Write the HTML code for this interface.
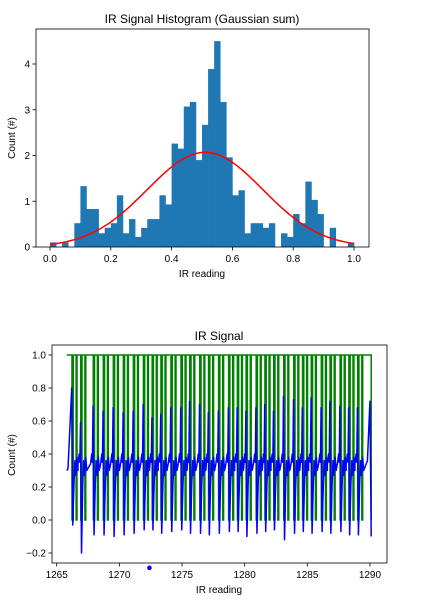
<!DOCTYPE html>
<html><head><meta charset="utf-8"><style>
html,body{margin:0;padding:0;background:#fff;}
svg{display:block;font-family:"Liberation Sans","DejaVu Sans",sans-serif;}
</style></head><body>
<svg id="fig" width="422" height="608" viewBox="0 0 422 608"></svg>
<script>
// ---- histogram data ----
const binEdgesStart = 0, binWidth = 0.02;
const histCounts = [0.1,0,0.1,0,0.52,1.33,0.83,0.83,0.3,0.42,0.52,1.13,0.3,0.61,0.22,0.42,0.61,0.61,1.13,0.93,2.26,2.15,3.07,3.17,1.9,2.67,3.89,4.5,3.17,1.96,1.13,1.24,0.3,0.52,0.52,0.42,0.52,0,0.3,0.22,0.72,0.52,1.43,1.03,0.72,0,0.42,0,0,0.1];
const gaussAmp = 2.07, gaussMu = 0.51, gaussSigma = 0.19;
const histXTicks = [0.0,0.2,0.4,0.6,0.8,1.0];
const histXTickLabels = ["0.0","0.2","0.4","0.6","0.8","1.0"];
const histYTicks = [0,1,2,3,4];
const histYTickLabels = ["0","1","2","3","4"];
// ---- signal data ----
const peakX = [1266.2,1266.9,1267.9,1268.7,1269.5,1270.3,1271.1,1271.9,1272.6,1273.3,1274.1,1274.9,1275.6,1276.4,1277.1,1277.9,1278.7,1279.4,1280.1,1280.9,1281.6,1282.3,1283.1,1283.9,1284.6,1285.3,1286.1,1286.8,1287.6,1288.3,1289.0];
const peakY = [0.80,0.59,0.69,0.66,0.68,0.65,0.66,0.70,0.62,0.64,0.68,0.68,0.72,0.70,0.65,0.66,0.68,0.68,0.66,0.68,0.70,0.66,0.75,0.73,0.68,0.74,0.68,0.72,0.69,0.68,0.68];
const minY = [-0.03,-0.2,-0.09,-0.09,-0.10,-0.09,-0.08,-0.06,-0.06,-0.08,-0.07,-0.06,-0.08,-0.08,-0.09,-0.08,-0.07,-0.07,-0.10,-0.08,-0.07,-0.06,-0.12,-0.08,-0.07,-0.08,-0.07,-0.08,-0.07,-0.09,-0.09];
const sigStartX = 1265.8, sigEndX = 1290.1;
const dotX = 1272.4, dotY = -0.29;
const sigXTicks = [1265,1270,1275,1280,1285,1290];
const sigXTickLabels = ["1265","1270","1275","1280","1285","1290"];
const sigYTicks = [-0.2,0,0.2,0.4,0.6,0.8,1.0];
const sigYTickLabels = ["\u22120.2","0.0","0.2","0.4","0.6","0.8","1.0"];

const svg = document.getElementById('fig');
const NS = 'http://www.w3.org/2000/svg';
function mk(tag, attrs, parent){const e=document.createElementNS(NS,tag);for(const k in attrs)e.setAttribute(k,attrs[k]);(parent||svg).appendChild(e);return e;}
function txt(s,x,y,size,anchor,name,rot){const t=mk('text',{x:x,y:y,'font-size':size,'text-anchor':anchor||'middle',fill:'#000'});if(rot)t.setAttribute('transform','rotate(-90 '+x+' '+y+')');t.textContent=s;


return t;}

// ---- top histogram ----
const A = {l:36,r:369,t:29,b:247};
const hx = v => 50 + v*304;
const hy = v => 247 - v*45.75;
txt('IR Signal Histogram (Gaussian sum)',202,23,12,'middle','histogram-title');
const gBars = mk('g',{});


histCounts.forEach((c,i)=>{ if(c<=0) return;
  const x0=hx(binEdgesStart+i*binWidth), x1=hx(binEdgesStart+(i+1)*binWidth);
  const r=mk('rect',{x:x0,y:hy(c),width:x1-x0+0.3,height:hy(0)-hy(c),fill:'#1f77b4'},gBars);
  
  
});
let gp='';
for(let i=0;i<=100;i++){const v=i/100;const y=gaussAmp*Math.exp(-Math.pow(v-gaussMu,2)/(2*gaussSigma*gaussSigma));gp+=(i?'L':'M')+hx(v).toFixed(2)+' '+hy(y).toFixed(2);}
const gc=mk('path',{d:gp,stroke:'#ff0000','stroke-width':1.5,fill:'none'});


const f1=mk('rect',{x:A.l,y:A.t,width:A.r-A.l,height:A.b-A.t,fill:'none',stroke:'#000','stroke-width':0.8});


histXTicks.forEach((v,i)=>{mk('line',{x1:hx(v),x2:hx(v),y1:A.b,y2:A.b+3.5,stroke:'#000','stroke-width':0.8});txt(histXTickLabels[i],hx(v),A.b+15,10,'middle','hist-x-tick-label');});
histYTicks.forEach((v,i)=>{mk('line',{x1:A.l-3.5,x2:A.l,y1:hy(v),y2:hy(v),stroke:'#000','stroke-width':0.8});txt(histYTickLabels[i],A.l-6,hy(v)+3.5,10,'end','hist-y-tick-label');});
txt('IR reading',202,277,10,'middle','hist-x-axis-title');
txt('Count (#)',15,138,10,'middle','hist-y-axis-title',true);

// ---- bottom signal ----
const B = {l:52,r:387,t:345,b:563};
const sx = v => 56.7 + (v-1265)*12.53;
const sy = v => 520 - v*165;
txt('IR Signal',219,340,12,'middle','signal-title');
let gpts=[[sigStartX,1]];
peakX.forEach(p=>{gpts.push([p+0.02,1],[p+0.02,0],[p+0.12,0],[p+0.12,1],[p+0.35,1],[p+0.35,0],[p+0.42,0],[p+0.42,1]);});
gpts.push([sigEndX,1],[sigEndX,0]);
const gpath=mk('path',{d:gpts.map((q,i)=>(i?'L':'M')+sx(q[0]).toFixed(2)+' '+sy(q[1]).toFixed(2)).join(''),stroke:'#008000','stroke-width':1.5,fill:'none'});


let bpts=[[sigStartX,0.3],[sigStartX+0.1,0.31]];
peakX.forEach((p,i)=>{
  if(i>0) bpts.push([p-0.2,0.34],[p-0.1,0.4],[p-0.05,0.35]);
  bpts.push([p,peakY[i]],[p+0.08,minY[i]],[p+0.18,0.22],[p+0.25,0.36],[p+0.32,0.27],[p+0.42,0.38],[p+0.5,0.3]);
});
bpts.push([sigEndX-0.3,0.36],[sigEndX-0.1,0.72],[sigEndX,-0.1]);
bpts.sort((a,b)=>a[0]-b[0]);
const bpath=mk('path',{d:bpts.map((q,i)=>(i?'L':'M')+sx(q[0]).toFixed(2)+' '+sy(q[1]).toFixed(2)).join(''),stroke:'#0000ff','stroke-width':1.5,fill:'none','stroke-linejoin':'round'});


const dot=mk('circle',{cx:sx(dotX),cy:sy(dotY),r:2.3,fill:'#0000ff'});


const f2=mk('rect',{x:B.l,y:B.t,width:B.r-B.l,height:B.b-B.t,fill:'none',stroke:'#000','stroke-width':0.8});


sigXTicks.forEach((v,i)=>{mk('line',{x1:sx(v),x2:sx(v),y1:B.b,y2:B.b+3.5,stroke:'#000','stroke-width':0.8});txt(sigXTickLabels[i],sx(v),B.b+15,10,'middle','signal-x-tick-label');});
sigYTicks.forEach((v,i)=>{mk('line',{x1:B.l-3.5,x2:B.l,y1:sy(v),y2:sy(v),stroke:'#000','stroke-width':0.8});txt(sigYTickLabels[i],B.l-6,sy(v)+3.5,10,'end','signal-y-tick-label');});
txt('IR reading',219,593,10,'middle','signal-x-axis-title');
txt('Count (#)',15,455,10,'middle','signal-y-axis-title',true);
</script>
</body></html>
